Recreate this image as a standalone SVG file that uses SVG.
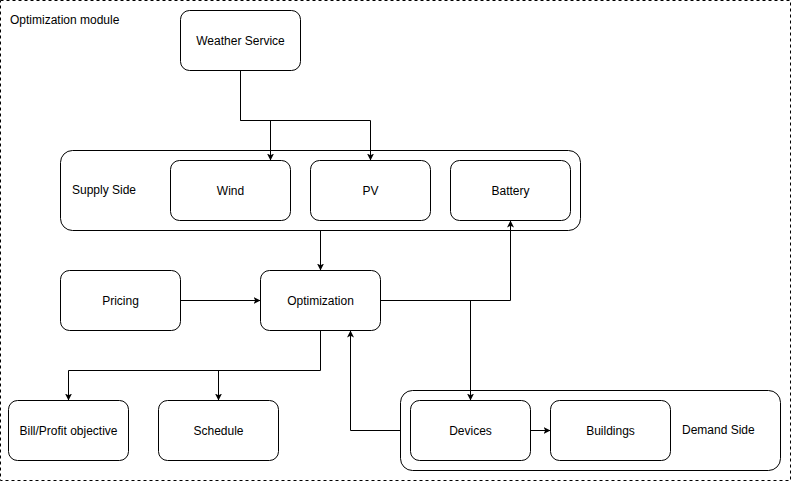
<svg xmlns="http://www.w3.org/2000/svg" width="791" height="481" viewBox="0 0 791 481">
<defs>
<style>
.box{fill:#fff;stroke:#000;stroke-width:1}
.txt{font-family:"Liberation Sans",Arial,sans-serif;font-size:12px;fill:#000}
.c{text-anchor:middle}
.edge{fill:none;stroke:#000;stroke-width:1}
</style>
<marker id="arr" viewBox="0 0 10 10" refX="10" refY="5" markerWidth="7" markerHeight="7" orient="auto" markerUnits="userSpaceOnUse">
<path d="M0,0 L10,5 L0,10 L2.5,5 Z" fill="#000"/>
</marker>
</defs>
<rect width="791" height="481" fill="#fff"/>
<g id="module">
<rect x="0.5" y="0.5" width="790" height="480" fill="none" stroke="#000" stroke-dasharray="3,3"/>
<text class="txt" x="10" y="24">Optimization module</text>
</g>
<g id="weather"><rect class="box" x="180.5" y="10.5" width="120" height="60" rx="9"/><text class="txt c" x="240.5" y="45">Weather Service</text></g>
<g id="supply"><rect class="box" x="60.5" y="150.5" width="520" height="80" rx="12"/><text class="txt" x="72" y="194">Supply Side</text></g>
<g id="wind"><rect class="box" x="170.5" y="160.5" width="120" height="60" rx="9"/><text class="txt c" x="230.5" y="195">Wind</text></g>
<g id="pv"><rect class="box" x="310.5" y="160.5" width="120" height="60" rx="9"/><text class="txt c" x="370.5" y="195">PV</text></g>
<g id="battery"><rect class="box" x="450.5" y="160.5" width="120" height="60" rx="9"/><text class="txt c" x="510.5" y="195">Battery</text></g>
<g id="pricing"><rect class="box" x="60.5" y="270.5" width="120" height="60" rx="9"/><text class="txt c" x="120.5" y="305">Pricing</text></g>
<g id="optimization"><rect class="box" x="260.5" y="270.5" width="120" height="60" rx="9"/><text class="txt c" x="320.5" y="305">Optimization</text></g>
<g id="bill"><rect class="box" x="8.5" y="400.5" width="120" height="60" rx="9"/><text class="txt c" x="68.5" y="435">Bill/Profit objective</text></g>
<g id="schedule"><rect class="box" x="158.5" y="400.5" width="120" height="60" rx="9"/><text class="txt c" x="218.5" y="435">Schedule</text></g>
<g id="demand"><rect class="box" x="400.5" y="390.5" width="380" height="80" rx="12"/><text class="txt" x="682" y="434">Demand Side</text></g>
<g id="devices"><rect class="box" x="410.5" y="400.5" width="120" height="60" rx="9"/><text class="txt c" x="470.5" y="435">Devices</text></g>
<g id="buildings"><rect class="box" x="550.5" y="400.5" width="120" height="60" rx="9"/><text class="txt c" x="610.5" y="435">Buildings</text></g>
<g id="connectors">
<path class="edge" d="M240.5,70.5 V120.5 H270.5 V160.5" marker-end="url(#arr)"/>
<path class="edge" d="M240.5,120.5 H370.5 V160.5" marker-end="url(#arr)"/>
<path class="edge" d="M320.5,230.5 V270.5" marker-end="url(#arr)"/>
<path class="edge" d="M180.5,300.5 H260.5" marker-end="url(#arr)"/>
<path class="edge" d="M380.5,300.5 H510.5 V220.5" marker-end="url(#arr)"/>
<path class="edge" d="M470.5,300.5 V400.5" marker-end="url(#arr)"/>
<path class="edge" d="M400.5,430.5 H350.5 V330.5" marker-end="url(#arr)"/>
<path class="edge" d="M530.5,430.5 H550.5" marker-end="url(#arr)"/>
<path class="edge" d="M320.5,330.5 V370.5 H68.5 V400.5" marker-end="url(#arr)"/>
<path class="edge" d="M218.5,370.5 V400.5" marker-end="url(#arr)"/>
</g>
</svg>
